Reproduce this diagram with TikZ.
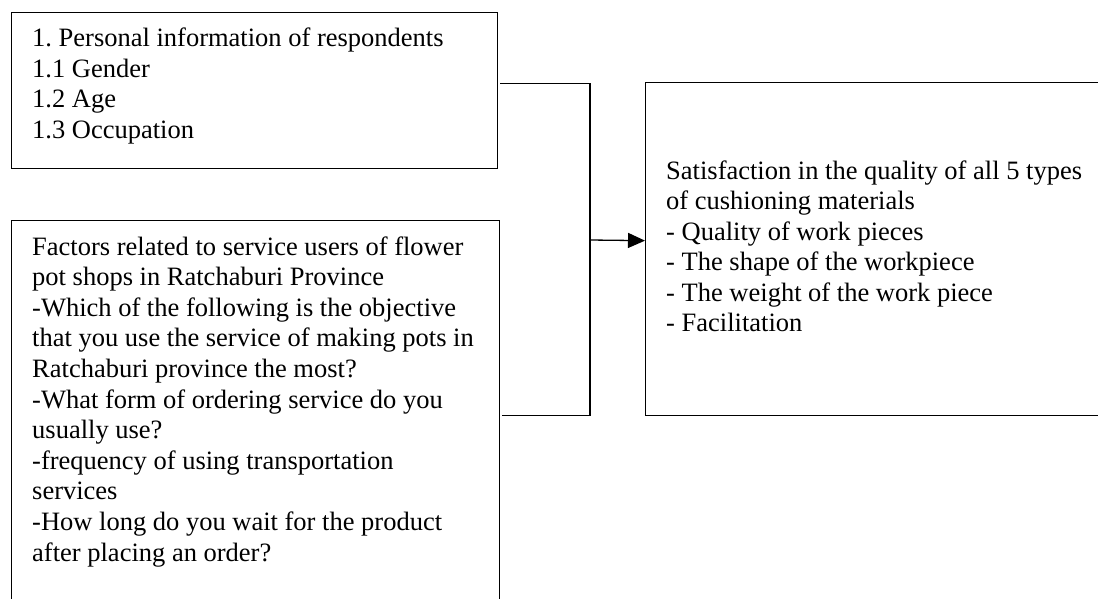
\documentclass[tikz,border=0pt]{standalone}
\usepackage{fontspec}
\setmainfont{Liberation Serif}
\usetikzlibrary{arrows.meta}
\tikzset{
  box/.style={draw=black, line width=1.3pt, rectangle, inner sep=0pt, anchor=north west},
  txt/.style={anchor=base west, inner sep=0pt, text=black},
  conn/.style={draw=black, line width=1.3pt},
  arr/.style={conn, -{Triangle[length=17pt,width=15pt]}}
}
\newcommand{\boxtext}[1]{\parbox[t]{480pt}{\frenchspacing\raggedright\fontsize{26.5}{30.6}\selectfont #1}}
\begin{document}
\begin{tikzpicture}[x=1pt,y=1pt]
\path[use as bounding box] (0,0) rectangle (1098,-599);
\clip (0,0) rectangle (1098,-599);
\fill[white] (0,0) rectangle (1098,-599);
% boxes
\node[box, minimum width=486pt, minimum height=156pt] (b1) at (11,-12) {};
\node[box, minimum width=488pt, minimum height=390pt] (b2) at (11,-220) {};
\node[box, minimum width=480pt, minimum height=333pt] (b3) at (645,-82) {};
% texts
\node[txt] (t1) at (32,-46.7) {\boxtext{1. Personal information of respondents\\
1.1 Gender\\
1.2 Age\\
1.3 Occupation}};
\node[txt] (t2) at (32,-255) {\boxtext{Factors related to service users of flower\\
pot shops in Ratchaburi Province\\
-Which of the following is the objective\\
that you use the service of making pots in\\
Ratchaburi province the most?\\
-What form of ordering service do you\\
usually use?\\
-frequency of using transportation\\
services\\
-How long do you wait for the product\\
after placing an order?}};
\node[txt] (t3) at (666,-179) {\boxtext{Satisfaction in the quality of all 5 types\\
of cushioning materials\\
- Quality of work pieces\\
- The shape of the workpiece\\
- The weight of the work piece\\
- Facilitation}};
% connectors
\coordinate (bus) at (590,-240);
\draw[conn] ([xshift=2pt,yshift=7pt]b1.east) -| (bus);
\draw[conn] ([xshift=2pt]b2.east) -| (bus);
\draw[arr] (bus) -- ([yshift=8.5pt]b3.west);
\end{tikzpicture}
\end{document}
